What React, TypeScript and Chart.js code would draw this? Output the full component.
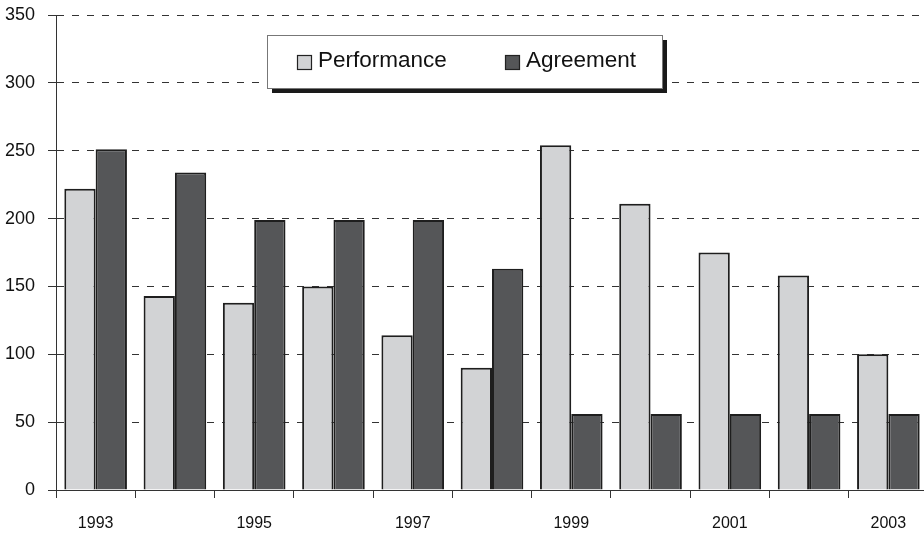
import React, { useEffect, useRef } from "react";
import { Chart, registerables } from "chart.js";

Chart.register(...registerables);

const years = ["1993", "1994", "1995", "1996", "1997", "1998", "1999", "2000", "2001", "2002", "2003"];
const performance = [222, 143, 138, 150, 114, 90, 254, 211, 175, 158, 100];
const agreement = [251, 234, 199, 199, 199, 163, 56, 56, 56, 56, 56];
const seriesNames = ["Performance", "Agreement"];
const yTicks = [0, 50, 100, 150, 200, 250, 300, 350];

const FILL_P = "#d2d3d5";
const FILL_A = "#555658";
const REG = "'Liberation Sans', Arial, sans-serif";

const legendPlugin = {
  id: "boxLegend",
  afterDraw(chart: any) {
    const ctx = chart.ctx;
    const x = 267, y = 35, w = 395, h = 53;
    ctx.save();
    ctx.fillStyle = "#1a1a1a";
    ctx.fillRect(x + 5, y + 5, w, h);
    ctx.fillStyle = "#ffffff";
    ctx.fillRect(x, y, w, h);
    ctx.strokeStyle = "#777";
    ctx.lineWidth = 1;
    ctx.strokeRect(x + 0.5, y + 0.5, w, h);
    const fills = [FILL_P, FILL_A];
    const pos = [297, 505];
    ctx.font = `22.5px ${REG}`;
    ctx.textBaseline = "alphabetic";
    ctx.textAlign = "left";
    for (let i = 0; i < 2; i++) {
      ctx.fillStyle = fills[i];
      ctx.fillRect(pos[i], 55, 14, 14);
      ctx.strokeStyle = "#222";
      ctx.lineWidth = 1.2;
      ctx.strokeRect(pos[i] + 0.5, 55.5, 14, 14);
      ctx.fillStyle = "#111";
      ctx.fillText(seriesNames[i], pos[i] + 21, 67);
    }
    ctx.restore();
  },
};

export default function App() {
  const ref = useRef<HTMLCanvasElement>(null);
  useEffect(() => {
    if (!ref.current) return;
    const chart = new Chart(ref.current, {
      type: "bar",
      data: {
        labels: years,
        datasets: [
          {
            label: seriesNames[0],
            data: performance,
            backgroundColor: FILL_P,
            borderColor: "#1e1e1e",
            borderWidth: 2,
            categoryPercentage: 0.79,
            barPercentage: 1.0,
          },
          {
            label: seriesNames[1],
            data: agreement,
            backgroundColor: FILL_A,
            borderColor: "#1e1e1e",
            borderWidth: 2,
            categoryPercentage: 0.79,
            barPercentage: 1.0,
          },
        ],
      },
      options: {
        responsive: false,
        animation: false,
        layout: { padding: { top: 15, right: 12, left: 0, bottom: 0 } },
        plugins: { legend: { display: false }, tooltip: { enabled: false } },
        scales: {
          x: {
            afterFit: (s: any) => { s.height = 46; s.paddingLeft = 0; s.paddingRight = 0; },
            grid: {
              offset: true,
              drawOnChartArea: false,
              drawTicks: true,
              tickLength: 8,
              color: "#333",
            },
            border: { display: true, color: "#333", width: 1 },
            ticks: {
              autoSkip: false,
              maxRotation: 0,
              padding: 16,
              color: "#111",
              font: { family: REG, size: 16 },
              callback: (_v: any, i: number) => (i % 2 === 0 ? years[i] : ""),
            },
          },
          y: {
            min: 0,
            max: 350,
            afterFit: (s: any) => { s.width = 56; s.paddingTop = 0; s.paddingBottom = 0; },
            afterBuildTicks: (s: any) => { s.ticks = yTicks.map((v) => ({ value: v })); },
            grid: {
              color: "#333",
              lineWidth: 1,
              tickLength: 8,
              tickColor: "#333",
            },
            border: { display: true, color: "#333", width: 1, dash: [7, 8] },
            ticks: {
              padding: 13,
              color: "#111",
              font: { family: REG, size: 18 },
            },
          },
        },
      },
      plugins: [legendPlugin],
    } as any);
    (chart.options.scales as any).y.grid.borderDash = [7, 8];
    chart.update();
    return () => chart.destroy();
  }, []);
  return (
    <div style={{ position: "fixed", left: 0, top: 0, width: 924, height: 536, overflow: "hidden", background: "#fff" }}>
      <canvas ref={ref} width={940} height={536} style={{ width: 940, height: 536, display: "block" }} />
    </div>
  );
}
